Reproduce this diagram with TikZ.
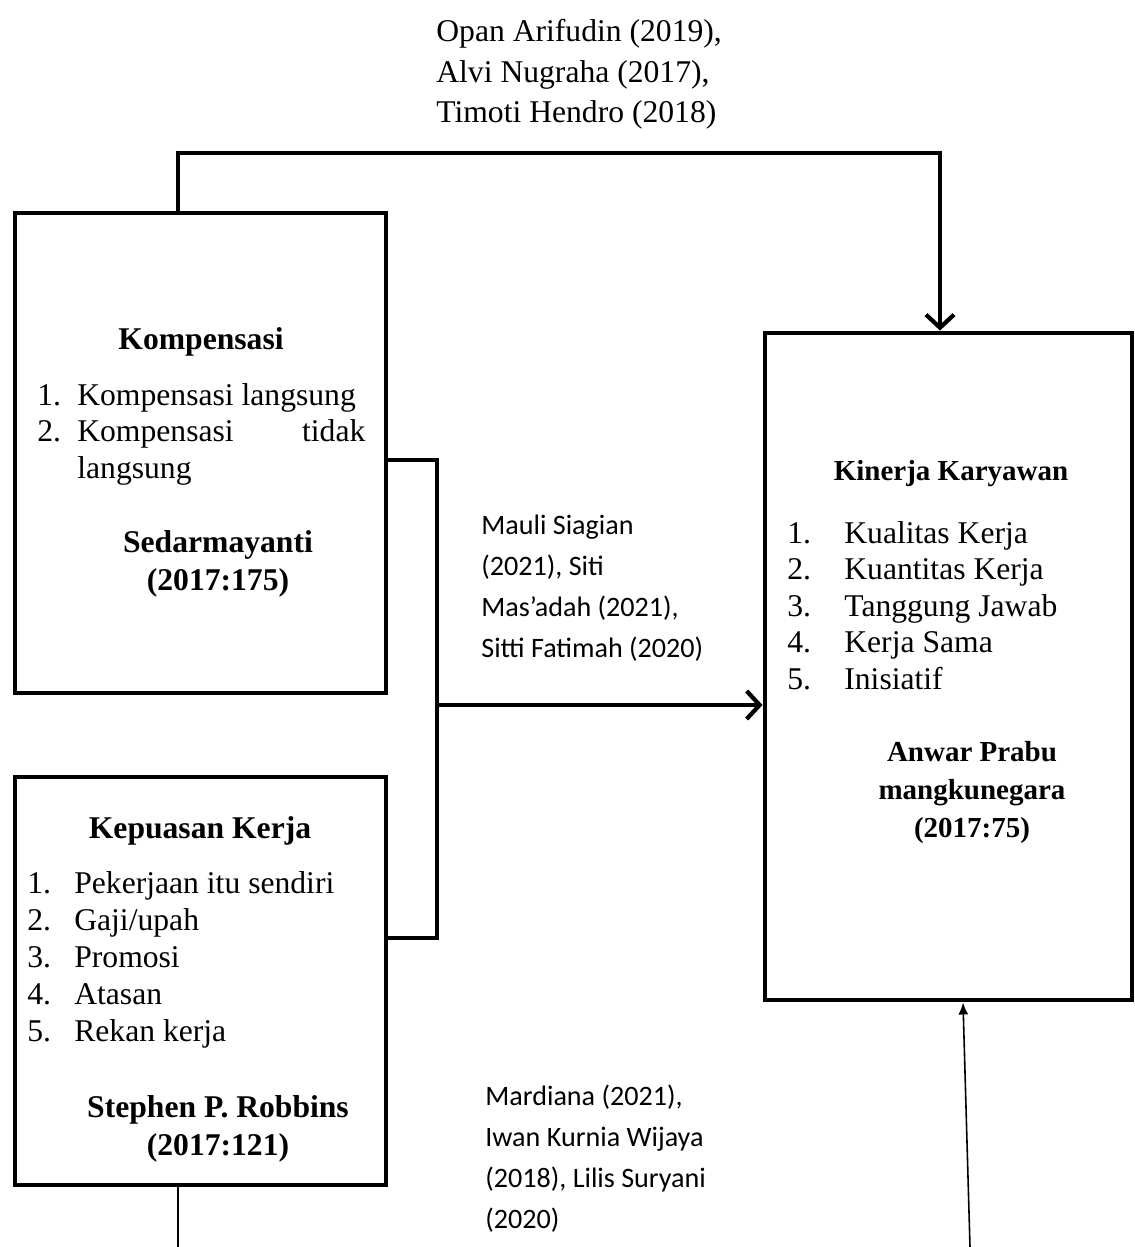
\documentclass[tikz,border=0pt]{standalone}
\usepackage{fontspec}
\setmainfont{Liberation Serif}
\newfontfamily\calibri{Carlito}
\usetikzlibrary{arrows.meta}

\begin{document}
\begin{tikzpicture}[
        varbox/.style={draw,rectangle,line width=2.8pt,inner sep=0pt},
        flow/.style={-{Straight Barb[length=2.6mm,width=5.6mm]},line width=2.4pt},
        link/.style={line width=2.4pt},
        thinlink/.style={line width=0.9pt},
        head/.style={font=\fontsize{18}{21.5}\selectfont\bfseries,anchor=base,align=center,inner sep=0pt},
        smallhead/.style={head,font=\fontsize{16.5}{21.6}\selectfont\bfseries},
        item/.style={font=\fontsize{18}{21}\selectfont,anchor=base west,inner sep=0pt},
        refs/.style={font=\fontsize{18}{23}\selectfont,anchor=base west,align=left,inner sep=0pt},
        cite/.style={font=\calibri\fontsize{16}{23.3}\selectfont,anchor=base west,align=left,inner sep=0pt},
    ]

    \useasboundingbox (0,0) rectangle (22.7,-24.94);

    % the three variables
    \node[varbox,minimum width=7.42cm,minimum height=9.6cm] (komp) at (4.01,-9.06) {};
    \node[varbox,minimum width=7.42cm,minimum height=8.16cm] (kep) at (4.01,-19.62) {};
    \node[varbox,minimum width=7.34cm,minimum height=13.34cm] (kin) at (18.97,-13.33) {};

    % Kompensasi
    \node[head] (kompname) at (4.02,-6.98) {Kompensasi};
    \node[item] (komp1) at (0.74,-8.1) {\makebox[0.8cm][l]{1.}Kompensasi langsung};
    \node[item] (komp2) at (0.74,-8.83) {\makebox[0.8cm][l]{2.}\makebox[5.76cm]{Kompensasi\hfill tidak}};
    \node[item] (komp3) at (1.54,-9.56) {langsung};
    \node[head] (kompsrc) at (4.36,-11.8) {Sedarmayanti\\(2017:175)};

    % Kepuasan Kerja
    \node[head] (kepname) at (4.0,-16.76) {Kepuasan Kerja};
    \foreach \i/\t in {1/Pekerjaan itu sendiri,2/{Gaji/upah},3/Promosi,4/Atasan,5/Rekan kerja}
        \node[item] (kep\i) at (0.54,{-17.86-0.74*(\i-1)}) {\makebox[0.94cm][l]{\i.}\t};
    \node[head] (kepsrc) at (4.36,-23.1) {Stephen P. Robbins\\(2017:121)};

    % Kinerja Karyawan
    \node[smallhead] (kinname) at (19.02,-9.6) {Kinerja Karyawan};
    \foreach \i/\t in {1/Kualitas Kerja,2/Kuantitas Kerja,3/Tanggung Jawab,4/Kerja Sama,5/Inisiatif}
        \node[item] (kin\i) at (15.74,{-10.86-0.73*(\i-1)}) {\makebox[1.14cm][l]{\i.}\t};
    \node[smallhead] (kinsrc) at (19.44,-16.74) {Anwar Prabu\\mangkunegara\\(2017:75)};

    % previous studies
    \node[refs] (toprefs) at (8.72,-2.45) {Opan Arifudin (2019),\\Alvi Nugraha (2017),\\Timoti Hendro (2018)};
    \node[cite] (midrefs) at (9.62,-13.14) {Mauli Siagian\\(2021), Siti\\Mas’adah (2021),\\Sitti Fatimah (2020)};
    \node[cite] (lowrefs) at (9.7,-24.56) {Mardiana (2021),\\Iwan Kurnia Wijaya\\(2018), Lilis Suryani\\(2020)};

    % connectors
    \coordinate (topleft) at (3.56,-3.06);
    \coordinate (topright) at (18.8,-3.06);
    \draw[flow] (topleft |- komp.north) -- (topleft) -- (topright) -- (topright |- kin.north);

    \coordinate (joint) at (8.74,-14.1);
    \draw[link] ([yshift=-1.4mm]komp.east) -| (joint) |- ([yshift=8.6mm]kep.east);
    \draw[flow] (joint) -- (joint -| kin.west);

    \coordinate (kepfoot) at (3.56,-24.94);
    \draw[thinlink] (kepfoot |- kep.south) -- (kepfoot);
    \coordinate (kinfoot) at (19.4,-24.94);
    \draw[thinlink,-{Latex[length=2.4mm,width=2mm]}] (kinfoot) -- ([xshift=2.9mm]kin.south);
\end{tikzpicture}
\end{document}
